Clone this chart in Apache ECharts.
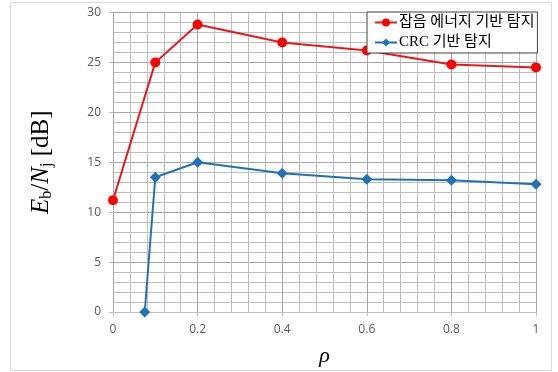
<!DOCTYPE html>
<html><head><meta charset="utf-8">
<script src="https://cdn.jsdelivr.net/npm/echarts@6/dist/echarts.min.js"></script>
<style>html,body{margin:0;padding:0;background:#fff}#c{width:558px;height:372px}</style>
</head><body><div id="c"></div>
<script>
var rho = [0, 0.1, 0.2, 0.4, 0.6, 0.8, 1];
var noiseEnergy = [11.2, 25.0, 28.8, 27.0, 26.2, 24.8, 24.5];
var rhoCrc = [0.075, 0.1, 0.2, 0.4, 0.6, 0.8, 1];
var crc = [0, 13.5, 15.0, 13.9, 13.3, 13.2, 12.8];
var seriesNames = ['잡음 에너지 기반 탐지', 'CRC 기반 탐지'];

function pairs(xs, ys){ return xs.map(function(x,i){return [x, ys[i]];}); }

var chart = echarts.init(document.getElementById('c'));
chart.setOption({
  animation: false,
  backgroundColor: '#fff',
  graphic: [{type:'rect', shape:{x:10.5,y:2.5,width:541,height:368}, style:{fill:'none', stroke:'#d9d9d9', lineWidth:1}, z:-1}],
  grid: {left:113, right:22, top:12.5, bottom:60},
  legend: {
    orient:'vertical', left:367, top:12, padding:[3,3,3,7], itemGap:5,
    backgroundColor:'#fff', borderColor:'#404040', borderWidth:1,
    itemWidth:22, itemHeight:10,
    textStyle:{fontFamily:'"Liberation Serif","Noto Sans CJK KR"', fontSize:15, color:'#000', padding:[0,0,0,-3]},
    data: seriesNames
  },
  xAxis: {
    type:'value', min:0, max:1, interval:0.2,
    name:'ρ', nameLocation:'middle', nameGap:33,
    nameTextStyle:{fontFamily:'"Liberation Serif"', fontStyle:'italic', fontSize:22, color:'#000'},
    axisLine:{lineStyle:{color:'#bfbfbf'}},
    axisTick:{show:true, length:4, lineStyle:{color:'#bfbfbf'}},
    axisLabel:{color:'#595959', fontSize:12, fontFamily:'"Open Sans"', margin:12, formatter:function(v){return String(+v.toFixed(1));}},
    splitLine:{show:true, lineStyle:{color:'#a6a6a6'}},
    minorTick:{show:false, splitNumber:5},
    minorSplitLine:{show:true, lineStyle:{color:'#bdbdbd'}}
  },
  yAxis: {
    type:'value', min:0, max:30, interval:5,
    name:'{i|E}{s|b}{n|/}{i|N}{s|j}{n| [dB]}', nameLocation:'middle', nameGap:58, nameRotate:90,
    nameTextStyle:{rich:{
      i:{fontFamily:'"Liberation Serif"', fontStyle:'italic', fontSize:25, color:'#000'},
      n:{fontFamily:'"Liberation Serif"', fontSize:25, color:'#000'},
      s:{fontFamily:'"Liberation Serif"', fontSize:16, color:'#000', verticalAlign:'bottom', padding:[12,0,0,0]}
    }},
    axisLine:{show:false},
    axisTick:{show:true, length:4, lineStyle:{color:'#bfbfbf'}},
    axisLabel:{color:'#595959', fontSize:12, fontFamily:'"Open Sans"', margin:12},
    splitLine:{show:true, lineStyle:{color:'#a6a6a6'}},
    minorTick:{show:false, splitNumber:5},
    minorSplitLine:{show:true, lineStyle:{color:'#bdbdbd'}}
  },
  series: [
    {name:seriesNames[0], type:'line', data:pairs(rho, noiseEnergy), symbol:'circle', symbolSize:10,
     lineStyle:{color:'#e8191e', width:2}, itemStyle:{color:'#ff0000'}, z:3},
    {name:seriesNames[1], type:'line', data:pairs(rhoCrc, crc), symbol:'diamond', symbolSize:11,
     lineStyle:{color:'#1f72b8', width:2}, itemStyle:{color:'#1f72b8'}, z:3}
  ]
});
</script></body></html>
